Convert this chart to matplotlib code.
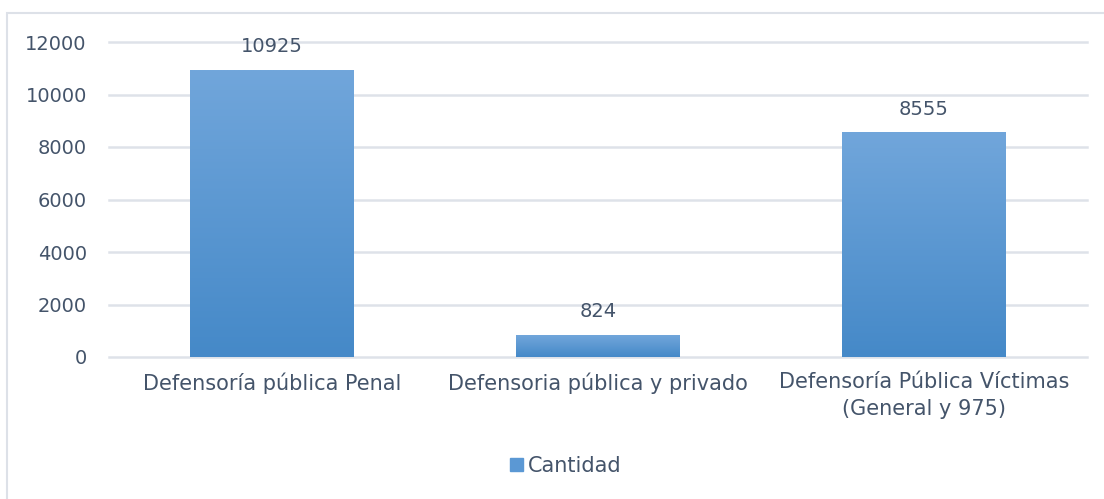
import matplotlib
matplotlib.use("Agg")
import matplotlib.pyplot as plt
import numpy as np
from matplotlib.patches import Rectangle, Patch
from matplotlib.colors import LinearSegmentedColormap

categories = ["Defensoría pública Penal", "Defensoria pública y privado",
              "Defensoría Pública Víctimas\n(General y 975)"]
values = [10925, 824, 8555]
series_name = "Cantidad"
yticks = [0, 2000, 4000, 6000, 8000, 10000, 12000]

TEXT = "#44546a"
GRID = "#dee2e9"
TOP_C = "#71a6db"
BOT_C = "#4589c8"

plt.rcParams.update({"font.family": "DejaVu Sans", "font.size": 14})

fig = plt.figure(figsize=(11.04, 4.99), dpi=100)

# outer chart frame
fig.patches.append(Rectangle((7 / 1104, -0.1), 1.2, (499 - 13) / 499 + 0.1,
                             transform=fig.transFigure, fill=False,
                             edgecolor="#dde1e8", lw=1.5))

ax = fig.add_axes([109 / 1104, 142 / 499, 978 / 1104, 315 / 499])
x = np.arange(len(categories))
bars = ax.bar(x, values, width=0.503, color=BOT_C, zorder=2)

# vertical gradient fill, light at top, darker at the base
cmap = LinearSegmentedColormap.from_list("grad", [BOT_C, TOP_C])
grad = np.linspace(0, 1, 256).reshape(-1, 1)
for b in bars:
    x0, w, h = b.get_x(), b.get_width(), b.get_height()
    im = ax.imshow(grad, cmap=cmap, origin="lower", aspect="auto",
                   extent=[x0, x0 + w, 0, h], zorder=3)
    im.set_clip_path(b)

for xi, v in zip(x, values):
    ax.annotate(f"{v}", (xi, v), xytext=(0, 10), textcoords="offset points",
                ha="center", va="bottom", color=TEXT, fontsize=14)

ax.set_xlim(-0.5, 2.5)
ax.set_ylim(0, 12000)
ax.set_yticks(yticks)
ax.set_xticks(x)
ax.set_xticklabels(categories, color=TEXT, fontsize=15, linespacing=1.45)
ax.tick_params(axis="y", length=0, pad=16, labelcolor=TEXT, labelsize=14)
ax.tick_params(axis="x", length=0, pad=11)
ax.grid(axis="y", color=GRID, lw=1.8, zorder=0)
for gl in ax.get_ygridlines():
    gl.set_clip_on(False)
ax.set_axisbelow(True)
for s in ax.spines.values():
    s.set_visible(False)

fig.legend(handles=[Patch(color="#5b98d4", label=series_name)],
           loc="center", bbox_to_anchor=(566 / 1104, (499 - 466) / 499),
           frameon=False, handlelength=0.6, handleheight=0.6,
           handletextpad=0.25, labelcolor=TEXT, fontsize=15)

fig.savefig("out.png", dpi=100)
